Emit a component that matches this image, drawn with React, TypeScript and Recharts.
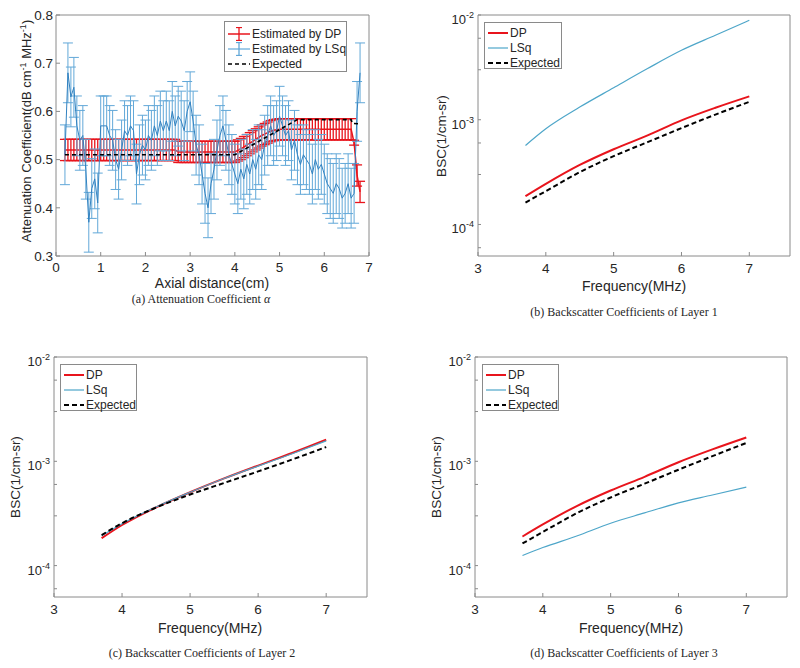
import React from "react";
import { ErrorBar, Line, LineChart, XAxis, YAxis } from "recharts";

// ---- panel (a): attenuation vs axial distance ----
// sampling grid of the estimates (cm), 100 positions 0.2 .. 6.8
const axialX = Array.from({ length: 100 }, (_, k) => +(0.2 + k / 15).toFixed(4));

const lsqAtten = [
  0.51, 0.68, 0.63, 0.65, 0.57, 0.54, 0.55, 0.48, 0.37, 0.44,
  0.46, 0.41, 0.57, 0.57, 0.57, 0.55, 0.54, 0.5, 0.48, 0.52,
  0.56, 0.55, 0.57, 0.56, 0.47, 0.51, 0.53, 0.52, 0.55, 0.54,
  0.57, 0.55, 0.58, 0.56, 0.58, 0.56, 0.6, 0.57, 0.59, 0.58,
  0.56, 0.6, 0.62, 0.58, 0.53, 0.51, 0.47, 0.43, 0.4, 0.45,
  0.48, 0.52, 0.55, 0.57, 0.54, 0.51, 0.49, 0.47, 0.45, 0.48,
  0.46, 0.49, 0.47, 0.5, 0.48, 0.51, 0.5, 0.53, 0.55, 0.57,
  0.55, 0.56, 0.59, 0.57, 0.55, 0.56, 0.52, 0.54, 0.51, 0.49,
  0.51, 0.5, 0.49, 0.47, 0.5, 0.48, 0.49, 0.47, 0.45, 0.44,
  0.43, 0.45, 0.44, 0.42, 0.43, 0.45, 0.42, 0.43, 0.6, 0.68,
];
const LSQ_ERR = 0.062;

const dpAtten = [
  0.52, 0.52, 0.52, 0.52, 0.52, 0.52, 0.52, 0.52, 0.52, 0.52,
  0.52, 0.52, 0.52, 0.52, 0.52, 0.52, 0.52, 0.52, 0.52, 0.52,
  0.52, 0.52, 0.52, 0.52, 0.52, 0.52, 0.52, 0.52, 0.52, 0.52,
  0.52, 0.52, 0.52, 0.52, 0.52, 0.52, 0.52, 0.52, 0.516, 0.516,
  0.516, 0.516, 0.516, 0.516, 0.516, 0.516, 0.516, 0.516, 0.516, 0.516,
  0.516, 0.516, 0.516, 0.516, 0.516, 0.516, 0.516, 0.516, 0.519, 0.522,
  0.526, 0.53, 0.534, 0.538, 0.542, 0.546, 0.55, 0.553, 0.556, 0.559,
  0.561, 0.562, 0.563, 0.563, 0.563, 0.563, 0.563, 0.563, 0.563, 0.563,
  0.563, 0.563, 0.563, 0.563, 0.563, 0.563, 0.563, 0.563, 0.563, 0.563,
  0.563, 0.563, 0.563, 0.563, 0.563, 0.563, 0.563, 0.535, 0.467, 0.433,
];
const dpAttenErr = [...Array(97).fill(0.022), 0.005, 0.022, 0.022];

const expectedAxialX = [0.2, 4.0, 5.4, 6.6, 6.63, 6.8];
const expectedAtten = [0.51, 0.51, 0.583, 0.583, 0.575, 0.574];

// ---- panels (b)-(d): backscatter coefficients ----
const freqMHz = [3.7, 4, 4.5, 5, 5.5, 6, 6.5, 7];

const dpLayer1 = [1.86e-4, 2.44e-4, 3.7e-4, 5.23e-4, 7.08e-4, 9.86e-4, 1.3e-3, 1.67e-3];
const lsqLayer1 = [5.68e-4, 8.2e-4, 1.32e-3, 2.02e-3, 3.08e-3, 4.6e-3, 6.4e-3, 8.9e-3];
const expLayer1 = [1.62e-4, 2.08e-4, 3.16e-4, 4.49e-4, 6.11e-4, 8.32e-4, 1.12e-3, 1.48e-3];

const dpLayer2 = [1.83e-4, 2.45e-4, 3.62e-4, 5.05e-4, 6.85e-4, 9.1e-4, 1.2e-3, 1.61e-3];
const lsqLayer2 = [1.93e-4, 2.52e-4, 3.65e-4, 5.05e-4, 6.85e-4, 9.0e-4, 1.18e-3, 1.57e-3];
const expLayer2 = [1.96e-4, 2.55e-4, 3.6e-4, 4.8e-4, 6.2e-4, 8.0e-4, 1.04e-3, 1.37e-3];

const dpLayer3 = [1.9e-4, 2.48e-4, 3.72e-4, 5.25e-4, 7.1e-4, 9.8e-4, 1.3e-3, 1.69e-3];
const lsqLayer3 = [1.25e-4, 1.49e-4, 1.92e-4, 2.55e-4, 3.2e-4, 4.0e-4, 4.75e-4, 5.65e-4];
const expLayer3 = [1.63e-4, 2.1e-4, 3.18e-4, 4.5e-4, 6.1e-4, 8.3e-4, 1.12e-3, 1.5e-3];

const freqTicks = [3, 4, 5, 6, 7];
const attenTicks = [0.3, 0.4, 0.5, 0.6, 0.7, 0.8];
const axialTicks = [0, 1, 2, 3, 4, 5, 6, 7];
const logTicks = [
  6e-5, 7e-5, 8e-5, 9e-5, 1e-4, 2e-4, 3e-4, 4e-4, 5e-4, 6e-4, 7e-4, 8e-4, 9e-4,
  1e-3, 2e-3, 3e-3, 4e-3, 5e-3, 6e-3, 7e-3, 8e-3, 9e-3, 1e-2,
];

const FONT = '"Liberation Sans", Arial, Helvetica, sans-serif';
const SERIF = '"Liberation Serif", "Times New Roman", serif';
const TEXT = "#262626";
const AXIS = "#8a8a8a";
const RED = "#e8141c";
const BLUE_A = "#3282c0";
const BLUE_A_BAR = "#62a8d8";
const BLUE_B = "#4ea6c9";

const tickFont = { fill: TEXT, fontSize: 13.5, fontFamily: FONT };

function renderLogTick(props: any) {
  const { x, y, payload } = props;
  const lg = Math.log10(payload.value);
  const exp = Math.round(lg);
  if (Math.abs(lg - exp) > 1e-6) return <g />;
  return (
    <text x={x} y={y} textAnchor="end" fill={TEXT} fontFamily={FONT} fontSize={13}>
      <tspan dy={9}>10</tspan>
      <tspan dy={-6} fontSize={9}>
        {exp}
      </tspan>
    </text>
  );
}

type LegendRow = { label: string; color: string; width: number; dash?: string; errorBar?: boolean };

function LegendBox({ left, top, width, height, rows, sample, rowTop, rowGap }: {
  left: number; top: number; width: number; height: number; rows: LegendRow[];
  sample: number; rowTop: number; rowGap: number;
}) {
  return (
    <div
      style={{
        position: "absolute", left, top, width, height, background: "#fff",
        border: `1px solid ${AXIS}`, boxSizing: "border-box",
        fontFamily: FONT, fontSize: 12, color: TEXT,
      }}
    >
      {rows.map((r, i) => (
        <div
          key={r.label}
          style={{
            position: "absolute", left: 3, top: rowTop + i * rowGap - 7, height: 14,
            lineHeight: "14px", whiteSpace: "nowrap", display: "flex", alignItems: "center",
          }}
        >
          <svg width={sample} height={14} style={{ marginRight: 2 }}>
            <line x1={0} x2={sample} y1={7} y2={7} stroke={r.color} strokeWidth={r.width} strokeDasharray={r.dash} />
            {r.errorBar && (
              <g stroke={r.color} strokeWidth={1.3}>
                <line x1={sample / 2} x2={sample / 2} y1={0.5} y2={13.5} />
                <line x1={sample / 2 - 3} x2={sample / 2 + 3} y1={0.5} y2={0.5} />
                <line x1={sample / 2 - 3} x2={sample / 2 + 3} y1={13.5} y2={13.5} />
              </g>
            )}
          </svg>
          <span>{r.label}</span>
        </div>
      ))}
    </div>
  );
}

function AbsText({ x, y, size, font, children, rotate }: {
  x: number; y: number; size: number; font: string; children: React.ReactNode; rotate?: boolean;
}) {
  return (
    <div
      style={{
        position: "absolute", left: x, top: y, fontFamily: font, fontSize: size, color: TEXT,
        whiteSpace: "nowrap", lineHeight: 1,
        transform: `translate(-50%, -50%)${rotate ? " rotate(-90deg)" : ""}`,
      }}
    >
      {children}
    </div>
  );
}

// axes are given 1px of room; margins below are the plot box minus that pixel
function AttenuationPanel() {
  const lsqData = axialX.map((x, i) => ({ x, y: lsqAtten[i], e: LSQ_ERR }));
  const dpData = axialX.map((x, i) => ({ x, y: dpAtten[i], e: dpAttenErr[i] }));
  const expData = expectedAxialX.map((x, i) => ({ x, y: expectedAtten[i] }));
  return (
    <div style={{ position: "absolute", left: 0, top: 0, width: 400, height: 300 }}>
      <LineChart width={400} height={300} margin={{ top: 14, left: 55, right: 30, bottom: 43 }}>
        <XAxis
          dataKey="x" type="number" domain={[0, 7]} ticks={axialTicks} height={1}
          axisLine={{ stroke: AXIS }} tickLine={{ stroke: AXIS }} tickSize={-4} tickMargin={10} tick={tickFont}
        />
        <XAxis
          xAxisId="top" orientation="top" type="number" domain={[0, 7]} ticks={axialTicks} height={1}
          axisLine={{ stroke: AXIS }} tickLine={{ stroke: AXIS }} tickSize={-4} tick={false}
        />
        <YAxis
          type="number" domain={[0.3, 0.8]} ticks={attenTicks} width={1} allowDataOverflow
          axisLine={{ stroke: AXIS }} tickLine={{ stroke: AXIS }} tickSize={-4} tickMargin={7}
          tick={tickFont} tickFormatter={(v: number) => v.toFixed(1)}
        />
        <YAxis
          yAxisId="right" orientation="right" type="number" domain={[0.3, 0.8]} ticks={attenTicks} width={1}
          axisLine={{ stroke: AXIS }} tickLine={{ stroke: AXIS }} tickSize={-4} tick={false}
        />
        <Line data={dpData} dataKey="y" stroke={RED} strokeWidth={1.5} dot={false} isAnimationActive={false}>
          <ErrorBar dataKey="e" direction="y" width={5} stroke={RED} strokeWidth={1.3} isAnimationActive={false} />
        </Line>
        <Line data={lsqData} dataKey="y" stroke={BLUE_A} strokeWidth={1} dot={false} isAnimationActive={false}>
          <ErrorBar dataKey="e" direction="y" width={5} stroke={BLUE_A_BAR} strokeWidth={1} isAnimationActive={false} />
        </Line>
        <Line data={expData} dataKey="y" stroke="#000" strokeWidth={1.6} strokeDasharray="4 3" dot={false} isAnimationActive={false} />
      </LineChart>
    </div>
  );
}

function BscPanel({ left, top, margin, dp, lsq, exp }: {
  left: number; top: number; margin: { top: number; left: number; right: number; bottom: number };
  dp: number[]; lsq: number[]; exp: number[];
}) {
  const data = freqMHz.map((f, i) => ({ f, dp: dp[i], lsq: lsq[i], exp: exp[i] }));
  return (
    <div style={{ position: "absolute", left, top, width: 400, height: 338 }}>
      <LineChart width={400} height={338} data={data} margin={margin}>
        <XAxis
          dataKey="f" type="number" domain={[3, 7.6]} ticks={freqTicks} height={1}
          axisLine={{ stroke: AXIS }} tickLine={{ stroke: AXIS }} tickSize={-4} tickMargin={11} tick={tickFont}
        />
        <XAxis
          xAxisId="top" orientation="top" dataKey="f" type="number" domain={[3, 7.6]} ticks={freqTicks} height={1}
          axisLine={{ stroke: AXIS }} tickLine={{ stroke: AXIS }} tickSize={-4} tick={false}
        />
        <YAxis
          type="number" scale="log" domain={[5e-5, 1e-2]} ticks={logTicks} width={1} allowDataOverflow
          axisLine={{ stroke: AXIS }} tickLine={{ stroke: AXIS }} tickSize={-3} tickMargin={7} tick={renderLogTick}
        />
        <YAxis
          yAxisId="right" orientation="right" type="number" scale="log" domain={[5e-5, 1e-2]} ticks={logTicks}
          width={1} allowDataOverflow axisLine={{ stroke: AXIS }} tickLine={{ stroke: AXIS }} tickSize={-3} tick={false}
        />
        <Line dataKey="dp" type="monotone" stroke={RED} strokeWidth={2} dot={false} isAnimationActive={false} />
        <Line dataKey="lsq" type="monotone" stroke={BLUE_B} strokeWidth={1.2} dot={false} isAnimationActive={false} />
        <Line dataKey="exp" type="monotone" stroke="#000" strokeWidth={2} strokeDasharray="5 3" dot={false} isAnimationActive={false} />
      </LineChart>
    </div>
  );
}

const bscLegendRows: LegendRow[] = [
  { label: "DP", color: RED, width: 2 },
  { label: "LSq", color: BLUE_B, width: 1.2 },
  { label: "Expected", color: "#000", width: 2, dash: "5 3" },
];

const attenLegendRows: LegendRow[] = [
  { label: "Estimated by DP", color: RED, width: 1.5, errorBar: true },
  { label: "Estimated by LSq", color: BLUE_A_BAR, width: 1.2, errorBar: true },
  { label: "Expected", color: "#000", width: 1.6, dash: "4 3" },
];

export default function App() {
  return (
    <div style={{ position: "absolute", left: 0, top: 0, width: 800, height: 668, background: "#fff", overflow: "hidden" }}>
      <AttenuationPanel />
      <BscPanel left={400} top={0} margin={{ top: 14, left: 77, right: 9, bottom: 81 }} dp={dpLayer1} lsq={lsqLayer1} exp={expLayer1} />
      <BscPanel left={0} top={330} margin={{ top: 26, left: 53, right: 32, bottom: 70 }} dp={dpLayer2} lsq={lsqLayer2} exp={expLayer2} />
      <BscPanel left={400} top={330} margin={{ top: 26, left: 74, right: 12, bottom: 70 }} dp={dpLayer3} lsq={lsqLayer3} exp={expLayer3} />

      <LegendBox left={224} top={21} width={123} height={51} rows={attenLegendRows} sample={22} rowTop={12} rowGap={15} />
      <LegendBox left={484} top={22} width={78} height={47} rows={bscLegendRows} sample={20} rowTop={10} rowGap={15} />
      <LegendBox left={60} top={364} width={77} height={47} rows={bscLegendRows} sample={20} rowTop={10} rowGap={15} />
      <LegendBox left={482} top={364} width={77} height={47} rows={bscLegendRows} sample={20} rowTop={10} rowGap={15} />

      <AbsText x={212} y={283} size={14} font={FONT}>Axial distance(cm)</AbsText>
      <AbsText x={26} y={131} size={13} font={FONT} rotate>
        Attenuation Coefficient(dB cm<sup style={{ fontSize: 9 }}>-1</sup> MHz<sup style={{ fontSize: 9 }}>-1</sup>)
      </AbsText>
      <AbsText x={634} y={286} size={14} font={FONT}>Frequency(MHz)</AbsText>
      <AbsText x={442} y={136} size={13.5} font={FONT} rotate>BSC(1/cm-sr)</AbsText>
      <AbsText x={210} y={628} size={14} font={FONT}>Frequency(MHz)</AbsText>
      <AbsText x={16} y={477} size={13.5} font={FONT} rotate>BSC(1/cm-sr)</AbsText>
      <AbsText x={631} y={628} size={14} font={FONT}>Frequency(MHz)</AbsText>
      <AbsText x={437} y={477} size={13.5} font={FONT} rotate>BSC(1/cm-sr)</AbsText>

      <AbsText x={201} y={299} size={12} font={SERIF}>(a) Attenuation Coefficient <i>α</i></AbsText>
      <AbsText x={624} y={312} size={12} font={SERIF}>(b) Backscatter Coefficients of Layer 1</AbsText>
      <AbsText x={202} y={653} size={12} font={SERIF}>(c) Backscatter Coefficients of Layer 2</AbsText>
      <AbsText x={624} y={653} size={12} font={SERIF}>(d) Backscatter Coefficients of Layer 3</AbsText>
    </div>
  );
}
